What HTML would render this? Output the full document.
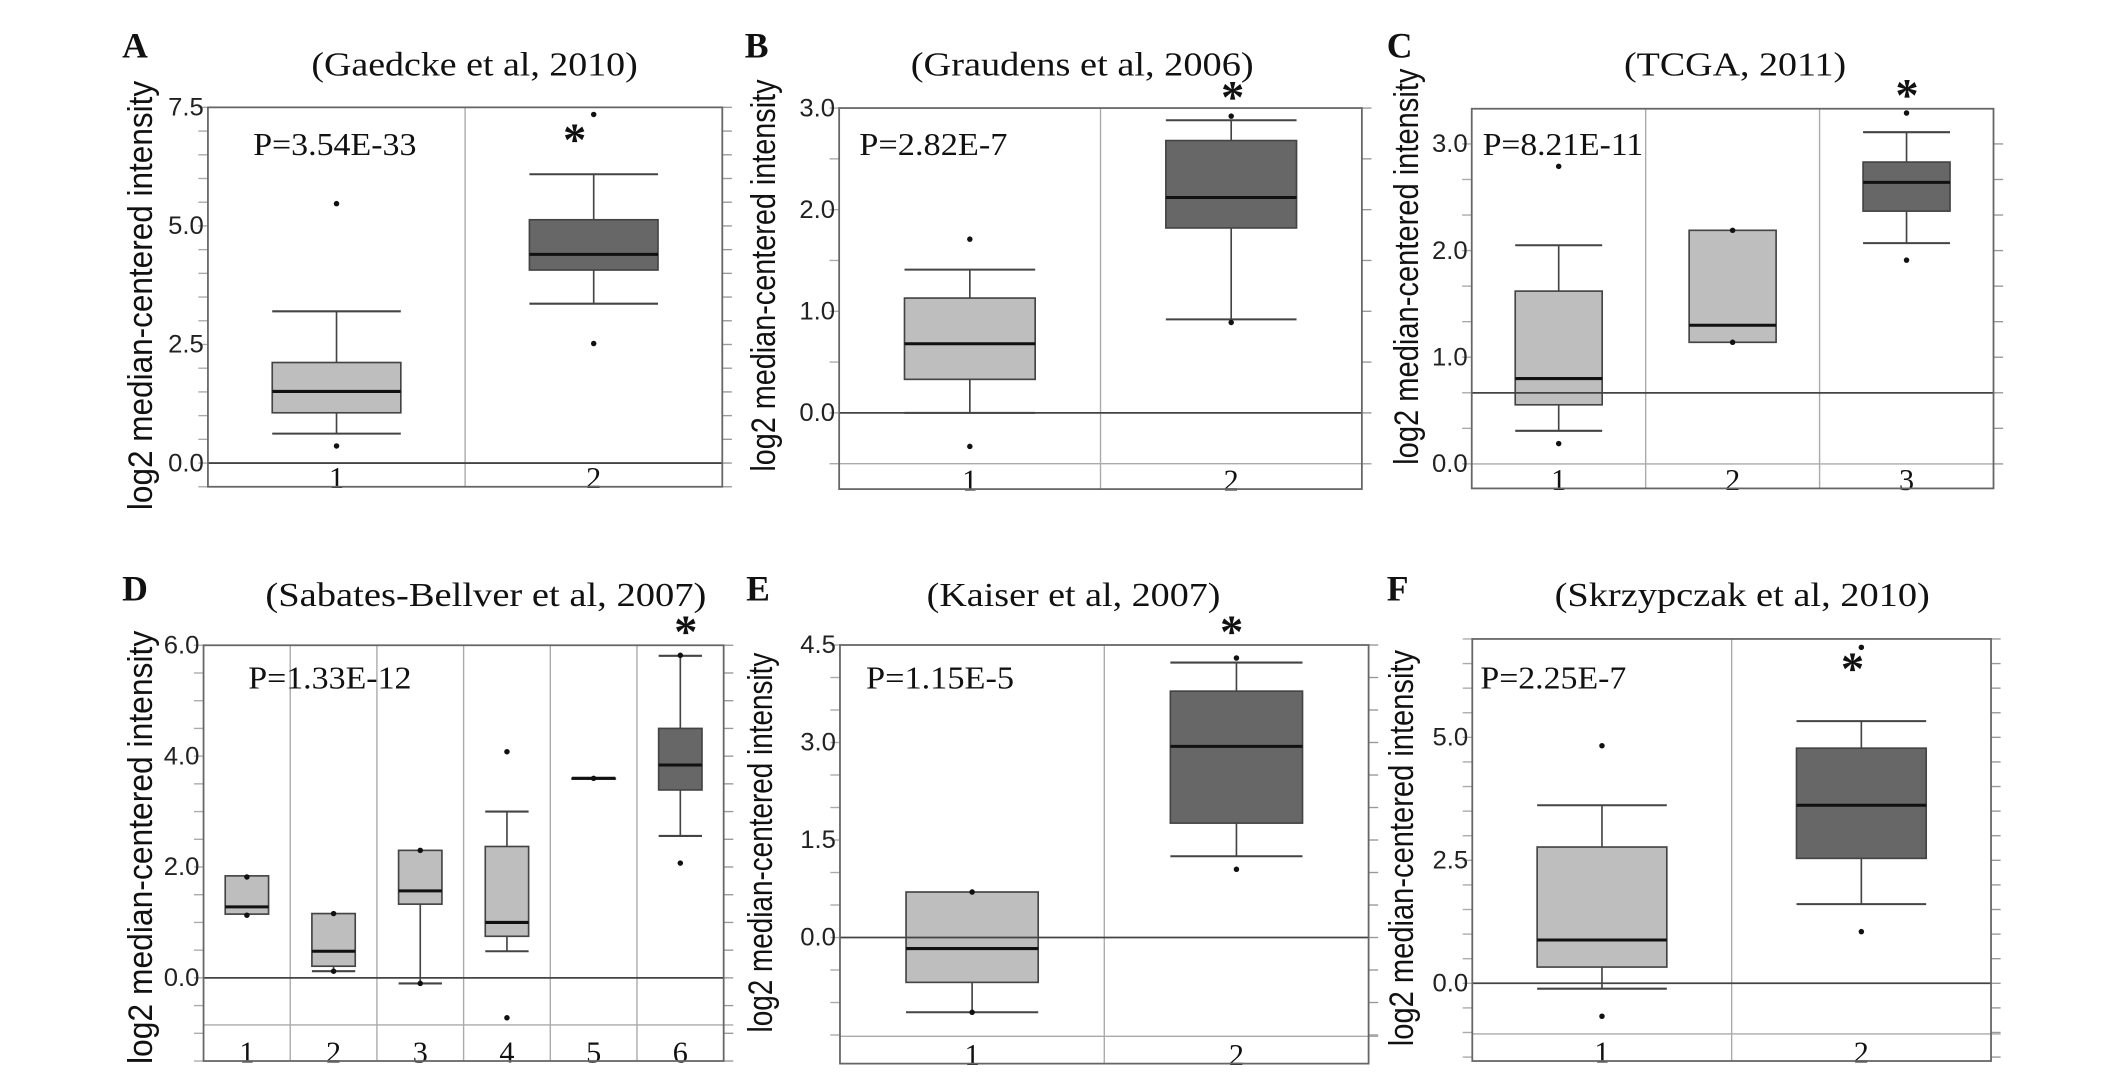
<!DOCTYPE html>
<html><head><meta charset="utf-8">
<style>
html,body{margin:0;padding:0;background:#fff;}
svg{display:block;}
</style></head>
<body>
<svg id="fig" xmlns="http://www.w3.org/2000/svg" width="2126" height="1075" viewBox="0 0 1550 784" preserveAspectRatio="none"></svg>
<script>
// ---- Data ----
const A_cats=["1","2"];
const A_q1=[1.06,4.07], A_med=[1.51,4.40], A_q3=[2.12,5.13], A_wlo=[0.62,3.36], A_whi=[3.2,6.09];
const A_out=[[0.36,5.47],[2.52,7.35]];
const B_cats=["1","2"];
const B_q1=[0.33,1.82], B_med=[0.68,2.12], B_q3=[1.13,2.68], B_wlo=[0.0,0.92], B_whi=[1.41,2.88];
const B_out=[[1.71,-0.33],[2.92,0.89]];
const C_cats=["1","2","3"];
const C_q1=[0.554,1.14,2.37], C_med=[0.80,1.30,2.64], C_q3=[1.62,2.19,2.83], C_wlo=[0.31,null,2.07], C_whi=[2.05,null,3.11];
const C_out=[[2.79,0.19],[2.19,1.14],[3.29,1.91]];
const D_cats=["1","2","3","4","5","6"];
const D_q1=[1.15,0.21,1.33,0.75,3.6,3.39], D_med=[1.28,0.48,1.57,1.00,3.6,3.84], D_q3=[1.84,1.16,2.30,2.37,3.6,4.50];
const D_wlo=[null,0.12,-0.10,0.48,null,2.56], D_whi=[null,null,null,3.0,null,5.81];
const D_out=[[1.82,1.13],[1.16,0.12],[2.30,-0.10],[4.08,-0.72],[3.6],[5.82,2.07]];
const E_cats=["1","2"];
const E_q1=[-0.69,1.76], E_med=[-0.17,2.94], E_q3=[0.70,3.79], E_wlo=[-1.15,1.25], E_whi=[null,4.23];
const E_out=[[0.70,-1.15],[4.30,1.05]];
const F_cats=["1","2"];
const F_q1=[0.33,2.54], F_med=[0.88,3.62], F_q3=[2.77,4.78], F_wlo=[-0.11,1.61], F_whi=[3.62,5.33];
const F_out=[[4.83,-0.67],[6.83,1.05]];
const A_ticks=["7.5","5.0","2.5","0.0"], B_ticks=["3.0","2.0","1.0","0.0"], C_ticks=["3.0","2.0","1.0","0.0"];
const D_ticks=["6.0","4.0","2.0","0.0"], E_ticks=["4.5","3.0","1.5","0.0"], F_ticks=["5.0","2.5","0.0"];
const A_p="P=3.54E-33", B_p="P=2.82E-7", C_p="P=8.21E-11", D_p="P=1.33E-12", E_p="P=1.15E-5", F_p="P=2.25E-7";

const NS="http://www.w3.org/2000/svg";
const svg=document.getElementById('fig');
function mk(tag,attrs,parent){const e=document.createElementNS(NS,tag);for(const k in attrs)e.setAttribute(k,attrs[k]);(parent||svg).appendChild(e);return e;}

const panels=[
 {id:'a',letter:'A',lx:89,ly:42,title:'(Gaedcke et al, 2010)',tx0:227,tx1:465,ty:55,L:151.6,R:526.6,T:78.3,B:355,top:7.5,bot:-0.5,step:0.5,ref:0,floor:null,
  cats:A_cats,q1:A_q1,med:A_med,q3:A_q3,wlo:A_wlo,whi:A_whi,out:A_out,ticks:A_ticks,p:A_p,px0:184.6,px1:303.6,py:113,ax:419,ay:98,yt:{x:111,y0:59,y1:372}},
 {id:'b',letter:'B',lx:543,ly:42,title:'(Graudens et al, 2006)',tx0:664,tx1:914,ty:55,L:611.8,R:992.9,T:78.8,B:356.7,top:3.0,bot:-0.75,step:0.5,ref:0,floor:-0.5,
  cats:B_cats,q1:B_q1,med:B_med,q3:B_q3,wlo:B_wlo,whi:B_whi,out:B_out,ticks:B_ticks,p:B_p,px0:626.5,px1:734.5,py:113,ax:898.7,ay:66.9,yt:{x:565,y0:58,y1:344}},
 {id:'c',letter:'C',lx:1011,ly:42,title:'(TCGA, 2011)',tx0:1184,tx1:1346,ty:55,L:1073,R:1453.4,T:79.3,B:356.2,top:3.33,bot:-0.23,step:1/3,ref:0.666,floor:0,
  cats:C_cats,q1:C_q1,med:C_med,q3:C_q3,wlo:C_wlo,whi:C_whi,out:C_out,ticks:C_ticks,p:C_p,px0:1081,px1:1198,py:113,ax:1390.4,ay:65.7,yt:{x:1034,y0:50,y1:339}},
 {id:'d',letter:'D',lx:89,ly:438,title:'(Sabates-Bellver et al, 2007)',tx0:193.5,tx1:515,ty:442,L:148.4,R:527.6,T:470.6,B:773.8,top:6.0,bot:-1.5,step:0.5,ref:0,floor:-0.85,
  cats:D_cats,q1:D_q1,med:D_med,q3:D_q3,wlo:D_wlo,whi:D_whi,out:D_out,ticks:D_ticks,p:D_p,px0:181,px1:300,py:502,ax:500,ay:456.8,yt:{x:111,y0:460,y1:776}},
 {id:'e',letter:'E',lx:544,ly:438,title:'(Kaiser et al, 2007)',tx0:675.6,tx1:889.8,ty:442,L:612.4,R:997.8,T:470.4,B:775.7,top:4.5,bot:-1.94,step:0.5,ref:0,floor:-1.52,
  cats:E_cats,q1:E_q1,med:E_med,q3:E_q3,wlo:E_wlo,whi:E_whi,out:E_out,ticks:E_ticks,p:E_p,px0:631.4,px1:739.3,py:502,ax:898,ay:456.8,yt:{x:563,y0:476,y1:753}},
 {id:'f',letter:'F',lx:1011,ly:438,title:'(Skrzypczak et al, 2010)',tx0:1133.4,tx1:1407,ty:442,L:1073.4,R:1451.6,T:466,B:773.8,top:7.0,bot:-1.58,step:0.5,ref:0,floor:-1.03,
  cats:F_cats,q1:F_q1,med:F_med,q3:F_q3,wlo:F_wlo,whi:F_whi,out:F_out,ticks:F_ticks,p:F_p,px0:1079.3,px1:1185.7,py:502,ax:1350.6,ay:484,yt:{x:1030,y0:474,y1:763}}
];

panels.forEach(P=>{
  const g=mk('g',{});
  
  
  const y=v=>P.T+(P.top-v)/(P.top-P.bot)*(P.B-P.T);
  const n=P.cats.length, cw=(P.R-P.L)/n;
  const xc=i=>P.L+cw*(i+0.5);
  const serif='"Liberation Serif", serif', sans='"Liberation Sans", sans-serif';

  let t=mk('text',{x:P.lx,y:P.ly,'font-family':serif,'font-weight':'bold','font-size':26,fill:'#111'},g);
  t.textContent=P.letter;
  
  
  t=mk('text',{x:P.tx0,y:P.ty,'font-family':serif,'font-size':25,fill:'#111',textLength:P.tx1-P.tx0,lengthAdjust:'spacingAndGlyphs'},g);
  t.textContent=P.title;
  
  

  const ym=(P.yt.y0+P.yt.y1)/2;
  t=mk('text',{x:0,y:0,transform:`translate(${P.yt.x},${ym}) rotate(-90)`,'text-anchor':'middle','font-family':sans,'font-size':25,fill:'#111',textLength:P.yt.y1-P.yt.y0,lengthAdjust:'spacingAndGlyphs'},g);
  t.textContent='log2 median-centered intensity';
  
  

  const ticksV=[];
  for(let k=Math.ceil(P.bot/P.step-1e-6);k*P.step<=P.top+1e-3;k++) ticksV.push(k*P.step);
  ticksV.forEach(v=>{
    const l=mk('line',{x1:P.R,x2:P.R+7,y1:y(v),y2:y(v),stroke:'#999','stroke-width':1},g);
    
    
    const l2=mk('line',{x1:P.L-7,x2:P.L,y1:y(v),y2:y(v),stroke:'#aaa','stroke-width':1},g);
    
    
  });
  P.ticks.forEach(s=>{
    const v=parseFloat(s);
    const tt=mk('text',{x:P.L-3,y:y(v)+6,'text-anchor':'end','font-family':'"Liberation Sans Narrow", "Liberation Sans", sans-serif','font-size':18,fill:'#222',textLength:26,lengthAdjust:'spacingAndGlyphs'},g);
    tt.textContent=s;
    
    
  });
  for(let i=1;i<n;i++){
    const l=mk('line',{x1:P.L+cw*i,x2:P.L+cw*i,y1:P.T,y2:P.B,stroke:'#aaa','stroke-width':1},g);
    
    
  }
  if(P.floor!==null){
    const l=mk('line',{x1:P.L,x2:P.R+7,y1:y(P.floor),y2:y(P.floor),stroke:'#aaa','stroke-width':1},g);
    
    
  }
  const bw=cw*0.5;
  for(let i=0;i<n;i++){
    const dark=(i===n-1);
    const cx=xc(i);
    const bg=mk('g',{},g);
    
    
    if(P.wlo[i]!==null){
      mk('line',{x1:cx,x2:cx,y1:y(P.q1[i]),y2:y(P.wlo[i]),stroke:'#444','stroke-width':1.2},bg);
      mk('line',{x1:cx-bw/2,x2:cx+bw/2,y1:y(P.wlo[i]),y2:y(P.wlo[i]),stroke:'#444','stroke-width':1.5},bg);
    }
    if(P.whi[i]!==null){
      mk('line',{x1:cx,x2:cx,y1:y(P.q3[i]),y2:y(P.whi[i]),stroke:'#444','stroke-width':1.2},bg);
      mk('line',{x1:cx-bw/2,x2:cx+bw/2,y1:y(P.whi[i]),y2:y(P.whi[i]),stroke:'#444','stroke-width':1.5},bg);
    }
    const h=Math.max(0.5,y(P.q1[i])-y(P.q3[i]));
    const r=mk('rect',{x:cx-bw/2,y:y(P.q3[i]),width:bw,height:h,fill:dark?'#676767':'#bebebe',stroke:'#444','stroke-width':1.2},bg);
    
    
    const m=mk('line',{x1:cx-bw/2,x2:cx+bw/2,y1:y(P.med[i]),y2:y(P.med[i]),stroke:'#111','stroke-width':2.2},bg);
    
    
    P.out[i].forEach(v=>{
      const c=mk('circle',{cx:cx,cy:y(v),r:2,fill:'#111'},bg);
      
      
    });
    const cl=mk('text',{x:cx,y:P.B+1,'text-anchor':'middle','font-family':serif,'font-size':22,fill:'#111'},g);
    cl.textContent=P.cats[i];
    
    
  }
  const rl=mk('line',{x1:P.L,x2:P.R,y1:y(P.ref),y2:y(P.ref),stroke:'#444','stroke-width':1.3},g);
  
  
  const fr=mk('rect',{x:P.L,y:P.T,width:P.R-P.L,height:P.B-P.T,fill:'none',stroke:'#666','stroke-width':1.3},g);
  
  
  t=mk('text',{x:P.px0,y:P.py,'font-family':serif,'font-size':23,fill:'#111',textLength:P.px1-P.px0,lengthAdjust:'spacingAndGlyphs'},g);
  t.textContent=P.p;
  
  
  t=mk('text',{x:P.ax,y:P.ay+15,'text-anchor':'middle','font-family':serif,'font-weight':'bold','font-size':34,fill:'#111'},g);
  t.textContent='*';
  
  
});
</script>
</body></html>
